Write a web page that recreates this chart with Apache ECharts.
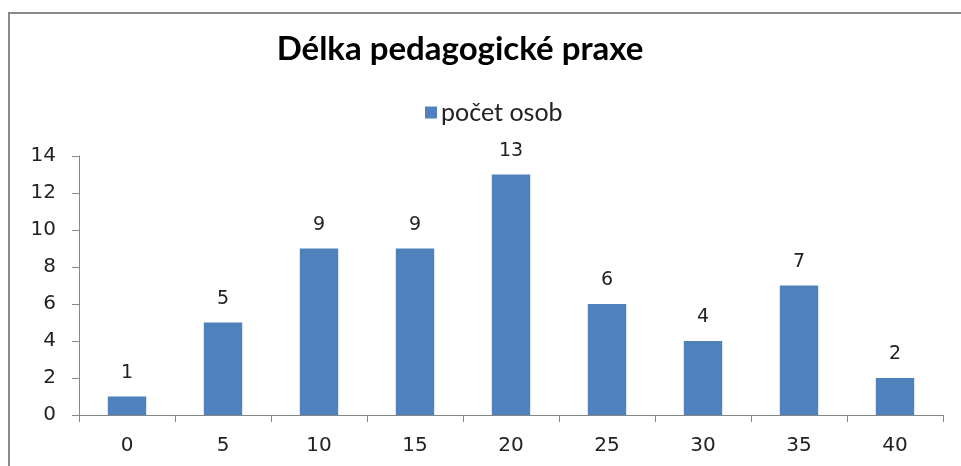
<!DOCTYPE html>
<html>
<head>
<meta charset="utf-8">
<script src="https://cdn.jsdelivr.net/npm/echarts@6/dist/echarts.min.js"></script>
<style>
html,body{margin:0;padding:0;background:#fff;}
#chart{width:961px;height:466px;}
</style>
</head>
<body>
<div id="chart"></div>
<script>
const titleText = 'Délka pedagogické praxe';
const seriesName = 'počet osob';
const categories = ['0', '5', '10', '15', '20', '25', '30', '35', '40'];
const values = [1, 5, 9, 9, 13, 6, 4, 7, 2];
const yTicks = { min: 0, max: 14, interval: 2 };

const chart = echarts.init(document.getElementById('chart'), null, { renderer: 'canvas' });
chart.setOption({
  animation: false,
  backgroundColor: '#ffffff',
  graphic: [
    { type: 'line', shape: { x1: 9, y1: 13, x2: 9, y2: 470 }, style: { stroke: '#8a8a8a', lineWidth: 2 } },
    { type: 'line', shape: { x1: 8, y1: 13, x2: 965, y2: 13 }, style: { stroke: '#8a8a8a', lineWidth: 2 } }
  ],
  title: {
    text: titleText,
    left: 455,
    textAlign: 'center',
    top: 28,
    textStyle: { fontFamily: 'Lato', fontWeight: 'bold', fontSize: 33, color: '#000' }
  },
  legend: {
    data: [seriesName],
    top: 95,
    left: 420,
    itemWidth: 12,
    itemHeight: 12,
    itemGap: 6,
    icon: 'rect',
    textStyle: { fontFamily: 'Lato', fontSize: 25, color: '#222', padding: [0, 0, 0, -1] }
  },
  grid: { left: 79, right: 18, top: 156, bottom: 51 },
  xAxis: {
    type: 'category',
    data: categories,
    axisLine: { lineStyle: { color: '#868686', width: 1 } },
    axisTick: { show: true, length: 7, alignWithLabel: false, lineStyle: { color: '#868686' } },
    axisLabel: { fontFamily: 'DejaVu Sans', fontSize: 20, color: '#222', margin: 21 }
  },
  yAxis: {
    type: 'value',
    min: yTicks.min,
    max: yTicks.max,
    interval: yTicks.interval,
    axisLine: { show: true, lineStyle: { color: '#868686', width: 1 } },
    axisTick: { show: true, length: 7, lineStyle: { color: '#868686' } },
    splitLine: { show: false },
    axisLabel: { fontFamily: 'DejaVu Sans', fontSize: 20, color: '#222', margin: 23 }
  },
  series: [{
    name: seriesName,
    type: 'bar',
    data: values,
    barWidth: '40%',
    itemStyle: { color: '#4F81BD' },
    label: {
      show: true,
      position: 'top',
      distance: 14,
      fontFamily: 'DejaVu Sans',
      fontSize: 19,
      color: '#222'
    }
  }]
});
</script>
</body>
</html>
